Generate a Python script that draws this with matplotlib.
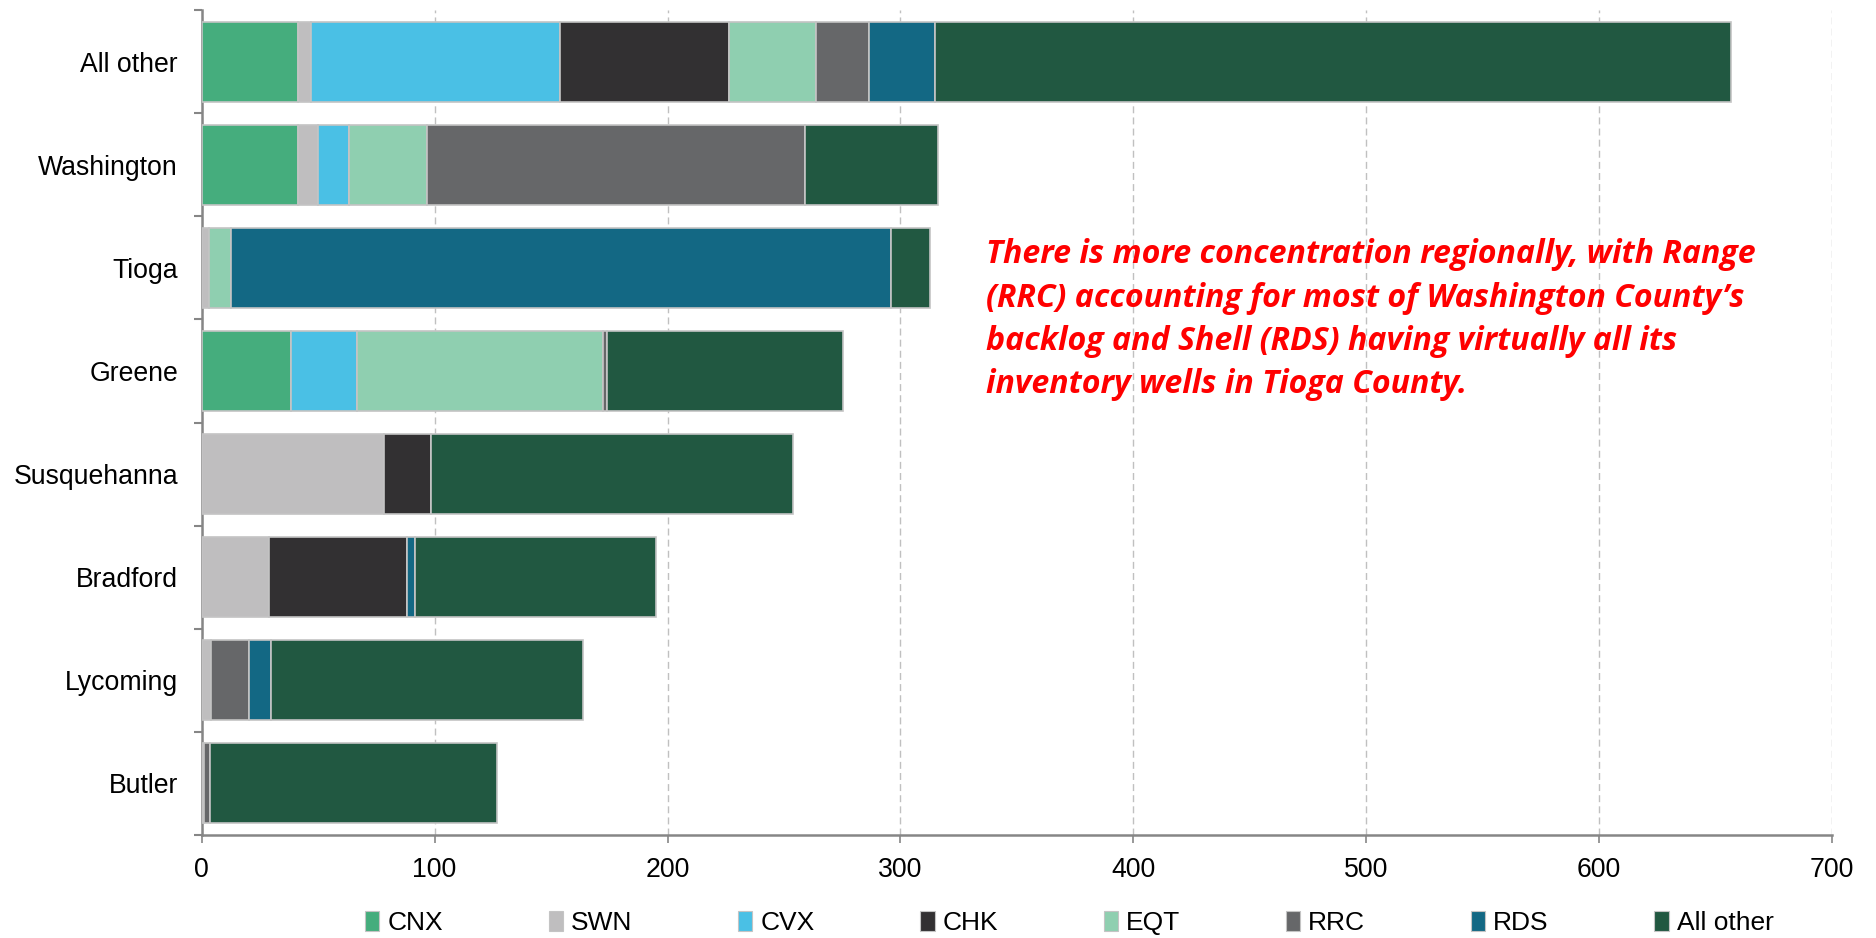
import numpy as np
import matplotlib.pyplot as plt
from matplotlib.patches import Patch

# Wells by county, split by operator
counties = ["All other", "Washington", "Tioga", "Greene", "Susquehanna", "Bradford", "Lycoming", "Butler"]
operators = ["CNX", "SWN", "CVX", "CHK", "EQT", "RRC", "RDS", "All other"]

cnx = [41.3, 41.3, 0, 38.5, 0, 0, 0, 0]
swn = [5.7, 8.5, 3.1, 0, 78.1, 28.8, 3.9, 1.0]
cvx = [107.0, 13.6, 0, 28.0, 0, 0, 0, 0]
chk = [72.4, 0, 0, 0, 20.5, 59.3, 0, 0]
eqt = [37.5, 33.4, 9.5, 105.6, 0, 0, 0, 0]
rrc = [22.6, 162.3, 0, 1.8, 0, 0, 16.4, 2.6]
rds = [28.2, 0, 283.2, 0, 0, 3.3, 9.5, 0]
other = [341.7, 56.9, 17.0, 101.4, 155.1, 103.8, 133.8, 123.0]

colors = ["#45AD7D", "#BFBEBF", "#4AC0E5", "#323032", "#8FCFB0", "#666769", "#136884", "#215841"]

note_lines = ["There is more concentration regionally, with Range",
              "(RRC) accounting for most of Washington County\u2019s",
              "backlog and Shell (RDS) having virtually all its",
              "inventory wells in Tioga County."]

plt.rcParams['font.family'] = ['Liberation Sans', 'DejaVu Sans']

W, H = 1876, 938
fig = plt.figure(figsize=(W / 100, H / 100), dpi=100)
ax = fig.add_axes([0.1075, 0.1098, 0.8691, 0.8795])

series = [cnx, swn, cvx, chk, eqt, rrc, rds, other]
y = np.arange(len(counties))
left = np.zeros(len(counties))
for vals, col, name in zip(series, colors, operators):
    vals = np.array(vals)
    ax.barh(y, vals, left=left, height=0.775, color=col, edgecolor="#C4C4C4",
            linewidth=1.2, label=name, zorder=3)
    left = left + vals

ax.set_xlim(0, 700)
ax.set_ylim(len(counties) - 0.5, -0.5)
ax.set_xticks(np.arange(0, 701, 100))
ax.set_yticks(y)
ax.set_yticklabels(counties, fontsize=19.2)
ax.set_yticks(np.arange(-0.5, len(counties), 1), minor=True)
ax.tick_params(axis='y', which='major', length=0, pad=17)
ax.tick_params(axis='y', which='minor', length=6, width=1.5, color="#868686", direction='out')
ax.tick_params(axis='x', which='major', length=6, width=1.2, color="#868686", labelsize=19.2, pad=10)

ax.grid(axis='x', color="#C0C0C0", linestyle=(0, (5, 3)), linewidth=1.0, zorder=0)
ax.set_axisbelow(True)
for s in ["top", "right"]:
    ax.spines[s].set_visible(False)
for s in ["left", "bottom"]:
    ax.spines[s].set_color("#868686")
    ax.spines[s].set_linewidth(1.8)

# red note, one line per baseline, sized so the first line spans ~770 px
baselines = [263, 307, 350, 393]
texts = []
for line, b in zip(note_lines, baselines):
    t = fig.text(986 / W, 1 - b / H, line, color="#FF0000", fontsize=22,
                 fontweight='bold', fontstyle='italic', family=['Open Sans', 'DejaVu Sans'],
                 va='baseline', ha='left')
    texts.append(t)
fig.canvas.draw()
r = fig.canvas.get_renderer()
w0 = texts[0].get_window_extent(r).width
for t in texts:
    t.set_fontsize(22 * 770 / w0)

handles = [Patch(facecolor=c, edgecolor="#C4C4C4", linewidth=0.8) for c in colors]
fig.legend(handles, operators, loc='center', bbox_to_anchor=(0.57, 0.016), ncol=8,
           frameon=False, fontsize=19, handlelength=0.55, handleheight=0.8,
           handletextpad=0.3, columnspacing=4.0)

fig.savefig("out.png", dpi=100)
